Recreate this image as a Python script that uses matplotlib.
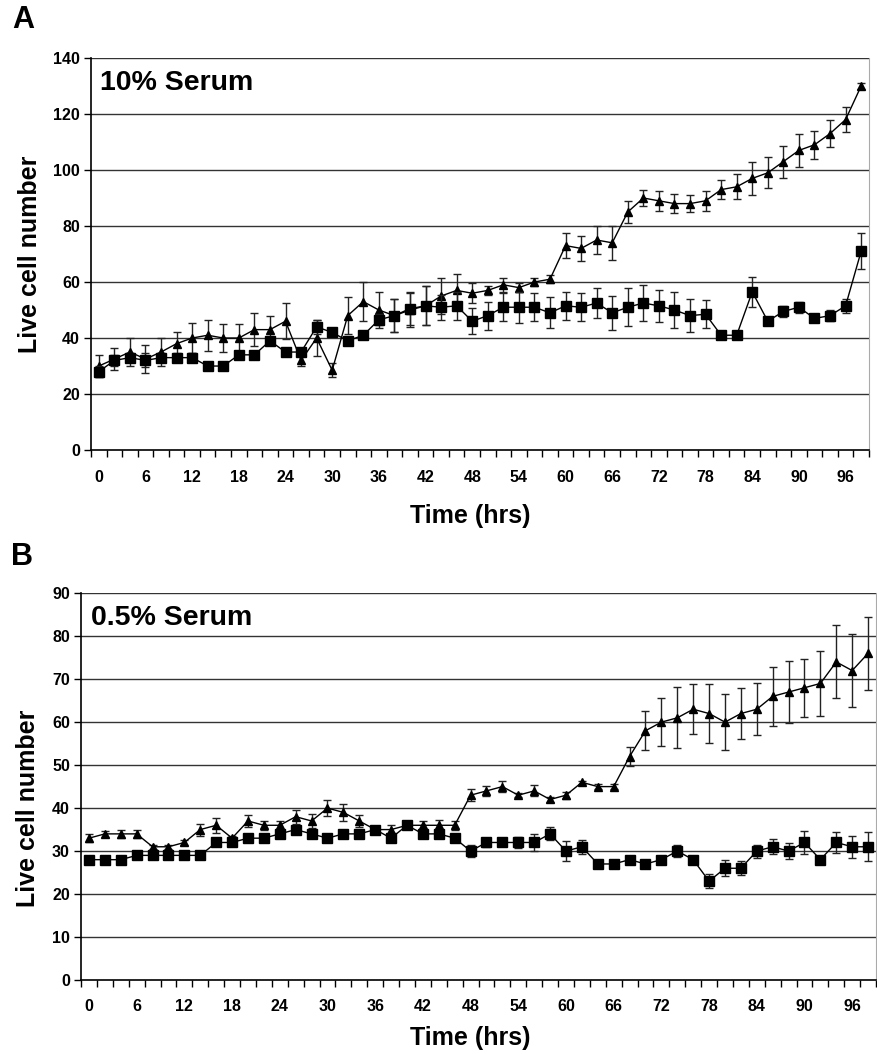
import numpy as np
import matplotlib
matplotlib.use('Agg')
import matplotlib.pyplot as plt
from matplotlib.ticker import MultipleLocator, FixedLocator

plt.rcParams['font.family'] = ['Liberation Sans', 'DejaVu Sans']
plt.rcParams['font.weight'] = 'bold'

# time points (hrs)
hours = list(range(0, 100, 2))

# panel A - 10% serum
tri_A = [30, 32.5, 35, 32.5, 35, 38, 40, 41, 40, 40, 43, 43, 46, 32, 40, 28.5, 48, 53, 50, 48,
         50, 51.5, 55, 57, 56, 57, 59, 58, 60, 61, 73, 72, 75, 74, 85, 90, 89, 88, 88, 89,
         93, 94, 97, 99, 103, 107, 109, 113, 118, 130]
tri_A_err = [4, 4, 5, 5, 5, 4, 5.5, 5.5, 5, 5, 6, 5, 6.5, 2, 6.5, 2.5, 6.5, 7, 6.5, 6,
             6, 7, 6.5, 6, 3.5, 1.5, 2.5, 1.5, 1.5, 1.5, 4.5, 4.5, 5, 6, 4, 3, 3.5, 3.5, 3, 3.5,
             3.5, 4.5, 6, 5.5, 5.7, 6, 5, 4.7, 4.6, 1]
sq_A = [28, 32, 33, 32, 33, 33, 33, 30, 30, 34, 34, 39, 35, 35, 44, 42, 39, 41, 46.5, 48,
        50.5, 51.5, 51, 51.5, 46, 48, 51, 51, 51, 49, 51.5, 51, 52.5, 49, 51, 52.5, 51.5, 50, 48, 48.5,
        41, 41, 56.5, 46, 49.5, 51, 47, 48, 51.5, 71]
sq_A_err = [2, 2, 1.5, 2.5, 1.5, 1.5, 1.5, 0.5, 0.5, 1.5, 1.5, 1, 0.5, 0.5, 2.5, 0.5, 1, 0.5, 2, 6,
            6, 7, 4.5, 5, 4.7, 5, 5, 5.5, 5, 5.5, 5, 5, 5.5, 6, 6.8, 6.5, 5.8, 6.5, 5.8, 5,
            0.5, 0.5, 5.4, 1, 2, 2, 0.5, 2, 2.4, 6.5]

# panel B - 0.5% serum
tri_B = [33, 34, 34, 34, 31, 31, 32, 35, 36, 33, 37, 36, 36, 38, 37, 40, 39, 37, 35, 35,
         36, 36, 36, 36, 43, 44, 45, 43, 44, 42, 43, 46, 45, 45, 52, 58, 60, 61, 63, 62,
         60, 62, 63, 66, 67, 68, 69, 74, 72, 76]
tri_B_err = [0.9, 0.7, 0.9, 0.9, 0.5, 0.5, 0.5, 1.4, 1.7, 0.5, 1.5, 1, 1.1, 1.6, 1.7, 1.8, 2, 1.5, 0.5, 1,
             0.8, 1, 1.2, 1, 1.4, 1.2, 1.3, 0.5, 1.3, 0.5, 0.8, 0.3, 0.5, 0.6, 2.3, 4.5, 5.6, 7.1, 5.8, 6.9,
             6.6, 6, 6, 6.8, 7.2, 6.7, 7.6, 8.5, 8.4, 8.5]
sq_B = [28, 28, 28, 29, 29, 29, 29, 29, 32, 32, 33, 33, 34, 35, 34, 33, 34, 34, 35, 33,
        36, 34, 34, 33, 30, 32, 32, 32, 32, 34, 30, 31, 27, 27, 28, 27, 28, 30, 28, 23,
        26, 26, 30, 31, 30, 32, 28, 32, 31, 31]
sq_B_err = [0.3, 0.3, 0.3, 0.3, 0.3, 0.3, 0.3, 0.3, 0.5, 0.5, 0.5, 0.5, 0.5, 0.8, 0.5, 0.5, 0.5, 0.5, 0.5, 0.5,
            0.8, 0.5, 0.5, 0.5, 1.4, 1, 0.5, 1.2, 1.9, 1.5, 2.3, 1.6, 0.3, 0.3, 0.6, 0.3, 0.6, 1.4, 0.5, 1.7,
            1.9, 1.6, 1.5, 1.7, 1.9, 2.6, 0.3, 2.4, 2.5, 3.4]

fig = plt.figure(figsize=(8.77, 10.54), dpi=100)
axA = fig.add_axes([0.1038, 0.573, 0.887, 0.372])
axB = fig.add_axes([0.0924, 0.0702, 0.9065, 0.367])


def draw(ax, tri, tri_err, sq, sq_err, ymax, ystep, title):
    for y in np.arange(ystep, ymax + ystep / 2, ystep):
        ax.axhline(y, color='#333333', lw=1.0, zorder=1)
    ax.errorbar(hours, tri, yerr=tri_err, color='black', lw=1.0, marker='^', ms=5.5,
                ecolor='#222222', elinewidth=1.0, capsize=3, capthick=1.0, zorder=3)
    ax.errorbar(hours, sq, yerr=sq_err, color='black', lw=1.0, marker='s', ms=6.5,
                ecolor='#222222', elinewidth=1.0, capsize=3, capthick=1.0, zorder=4)
    ax.set_xlim(-1, 99)
    ax.set_ylim(0, ymax)
    ax.yaxis.set_major_locator(MultipleLocator(ystep))
    ax.xaxis.set_major_locator(FixedLocator(list(range(0, 97, 6))))
    ax.xaxis.set_minor_locator(FixedLocator(list(range(-1, 100, 2))))
    ax.tick_params(axis='x', which='major', length=0, pad=14, labelsize=11.5)
    ax.tick_params(axis='x', which='minor', length=5, width=1, direction='out')
    ax.tick_params(axis='y', length=5, width=1, direction='out', pad=3, labelsize=11.5)
    for lab in ax.get_xticklabels() + ax.get_yticklabels():
        lab.set_fontweight('bold')
    ax.spines['top'].set_visible(False)
    ax.spines['right'].set_color('#aaaaaa')
    ax.spines['left'].set_linewidth(1.2)
    ax.spines['bottom'].set_linewidth(1.2)
    ax.set_ylabel('Live cell number', fontsize=18, fontweight='bold')
    ax.set_xlabel('Time (hrs)', fontsize=18, fontweight='bold')
    ax.text(0.012, 0.935, title, transform=ax.transAxes, fontsize=20.5, fontweight='bold',
            va='center', ha='left')
    return ax


draw(axA, tri_A, tri_A_err, sq_A, sq_A_err, 140, 20, '10% Serum')
axA.yaxis.set_label_coords(-0.063, 0.5)
axA.xaxis.set_label_coords(0.487, -0.138)

draw(axB, tri_B, tri_B_err, sq_B, sq_B_err, 90, 10, '0.5% Serum')
axB.yaxis.set_label_coords(-0.052, 0.445)
axB.xaxis.set_label_coords(0.489, -0.119)

fig.text(0.014, 0.981, 'A', fontsize=22, fontweight='bold', va='center', ha='left')
fig.text(0.012, 0.472, 'B', fontsize=22, fontweight='bold', va='center', ha='left')

fig.savefig('out.png', dpi=100)
